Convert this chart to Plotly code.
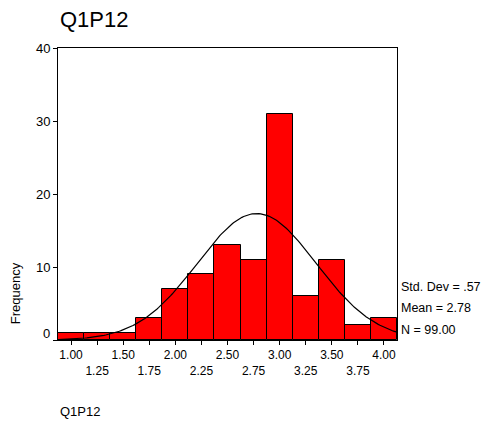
import numpy as np
import plotly.graph_objects as go

bin_centers = [1.00, 1.25, 1.50, 1.75, 2.00, 2.25, 2.50, 2.75, 3.00, 3.25, 3.50, 3.75, 4.00]
counts = [1, 1, 1, 3, 7, 9, 13, 11, 31, 6, 11, 2, 3]
tick_labels = ["1.00", "<br>1.25", "1.50", "<br>1.75", "2.00", "<br>2.25", "2.50",
               "<br>2.75", "3.00", "<br>3.25", "3.50", "<br>3.75", "4.00"]
y_ticks = [0, 10, 20, 30, 40]
y_labels = ["", "10", "20", "30", "40"]
std_dev = 0.57
mean = 2.78
n = 99
bin_width = 0.25

xs = np.linspace(0.875, 4.125, 200)
curve = n * bin_width / (std_dev * np.sqrt(2 * np.pi)) * np.exp(-(xs - mean) ** 2 / (2 * std_dev ** 2))

font = "Liberation Sans, Arial, sans-serif"

fig = go.Figure()
fig.add_trace(go.Bar(x=bin_centers, y=counts, width=bin_width,
                     marker=dict(color="#FF0000", line=dict(color="black", width=1)),
                     hoverinfo="x+y"))
fig.add_trace(go.Scatter(x=xs, y=curve, mode="lines",
                         line=dict(color="black", width=1.2), hoverinfo="skip"))

fig.update_layout(
    width=483, height=415,
    margin=dict(l=50, r=94, t=40, b=83),
    paper_bgcolor="white", plot_bgcolor="white",
    showlegend=False,
    font=dict(family=font, size=12, color="black"),
    bargap=0,
)
fig.update_xaxes(range=[0.875, 4.125], tickvals=bin_centers, ticktext=tick_labels,
                 ticks="outside", ticklen=4, tickcolor="black",
                 showline=True, linecolor="black", linewidth=1, mirror=True,
                 showgrid=False, zeroline=False, tickfont=dict(size=12))
fig.update_yaxes(range=[0, 40], tickvals=y_ticks, ticktext=y_labels,
                 ticks="outside", ticklen=4, tickcolor="black",
                 showline=True, linecolor="black", linewidth=1, mirror=True,
                 showgrid=False, zeroline=False, tickfont=dict(size=13))

fig.update_layout(annotations=[
    dict(text="Q1P12", xref="paper", yref="paper", x=0, y=1, xanchor="left", yanchor="bottom",
         yshift=14, showarrow=False, font=dict(size=22)),
    dict(text="Q1P12", xref="paper", yref="paper", x=0, y=0, xanchor="left", yanchor="middle",
         yshift=-71, showarrow=False, font=dict(size=13)),
    dict(text="Frequency", xref="paper", yref="paper", x=0, y=0.16, xanchor="center",
         yanchor="middle", xshift=-43, textangle=-90, showarrow=False, font=dict(size=13)),
    dict(text="0", xref="paper", yref="y", x=0, y=0, xanchor="right", yanchor="middle",
         xshift=-6, yshift=7, showarrow=False, font=dict(size=13)),
    dict(text="Std. Dev = .57", xref="paper", yref="y", x=1, y=0, xanchor="left",
         yanchor="middle", xshift=2, yshift=53, showarrow=False, font=dict(size=12.5)),
    dict(text="Mean = 2.78", xref="paper", yref="y", x=1, y=0, xanchor="left",
         yanchor="middle", xshift=2, yshift=32, showarrow=False, font=dict(size=12.5)),
    dict(text="N = 99.00", xref="paper", yref="y", x=1, y=0, xanchor="left",
         yanchor="middle", xshift=2, yshift=10, showarrow=False, font=dict(size=12.5)),
])

fig.write_html("out.html")
